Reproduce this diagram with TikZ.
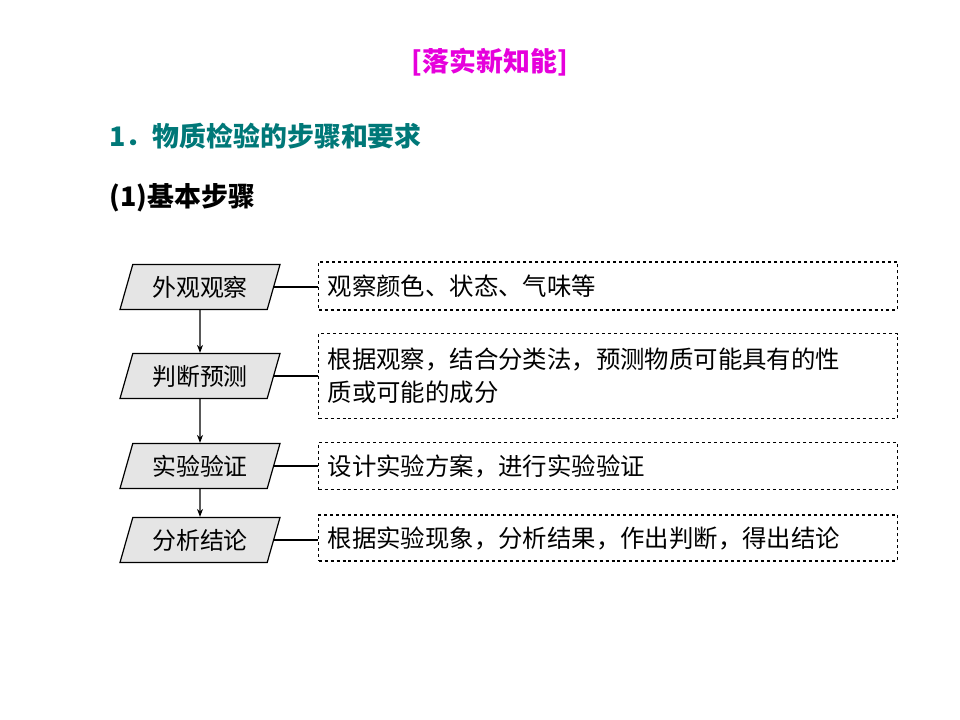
\documentclass[tikz,border=0pt]{standalone}
\usepackage{fontspec}
\setmainfont{Noto Sans CJK SC}
\usepackage{tikz}
\usetikzlibrary{shapes.geometric,arrows.meta}
\definecolor{titlepink}{RGB}{230,0,220}
\definecolor{headteal}{RGB}{0,120,120}
\tikzset{
  stepbox/.style={trapezium,trapezium left angle=66,trapezium right angle=114,
    trapezium stretches body,draw=black,line width=1.2bp,fill=gray!20,minimum width=160bp,
    minimum height=45bp,inner xsep=2bp,font=\fontsize{24}{27}\selectfont},
  notebox/.style={draw=black,dashed,line width=1.2bp,anchor=west,minimum width=579bp,
    inner xsep=9bp,text width=561bp,align=left,font=\fontsize{24.5}{33}\selectfont}
}
\begin{document}
\begin{tikzpicture}[x=1bp,y=-1bp]
	\useasboundingbox (0,0) rectangle (960,720);
	\node[text=titlepink,font=\bfseries\fontsize{27}{30}\selectfont] (title) at (490,62) {[落实新知能]};
	\node[text=headteal,font=\bfseries\fontsize{27}{30}\selectfont,anchor=west] (head) at (106,136) {1．物质检验的步骤和要求};
	\node[font=\bfseries\fontsize{27}{30}\selectfont,anchor=west] (sub) at (106,198) {(1)基本步骤};

	\node[stepbox] (s1) at (200,287) {外观观察};
	\node[stepbox] (s2) at (200,376) {判断预测};
	\node[stepbox] (s3) at (200,466) {实验验证};
	\node[stepbox] (s4) at (200,540) {分析结论};

	\node[notebox,minimum height=48bp] (n1) at (318,286) {观察颜色、状态、气味等};
	\node[notebox,minimum height=85bp] (n2) at (318,376) {根据观察，结合分类法，预测物质可能具有的性\\质或可能的成分};
	\node[notebox,minimum height=47bp] (n3) at (318,466) {设计实验方案，进行实验验证};
	\node[notebox,minimum height=46bp] (n4) at (318,538) {根据实验现象，分析结果，作出判断，得出结论};

	\draw[line width=1.2bp,-{Stealth[length=8bp]}] (s1) -- (s2);
	\draw[line width=1.2bp,-{Stealth[length=8bp]}] (s2) -- (s3);
	\draw[line width=1.2bp,-{Stealth[length=8bp]}] (s3) -- (s4);
	\draw[line width=1.2bp] (s1.east) -- (s1.east -| n1.west);
	\draw[line width=1.2bp] (s2.east) -- (s2.east -| n2.west);
	\draw[line width=1.2bp] (s3.east) -- (s3.east -| n3.west);
	\draw[line width=1.2bp] (s4.east) -- (s4.east -| n4.west);
\end{tikzpicture}
\end{document}
